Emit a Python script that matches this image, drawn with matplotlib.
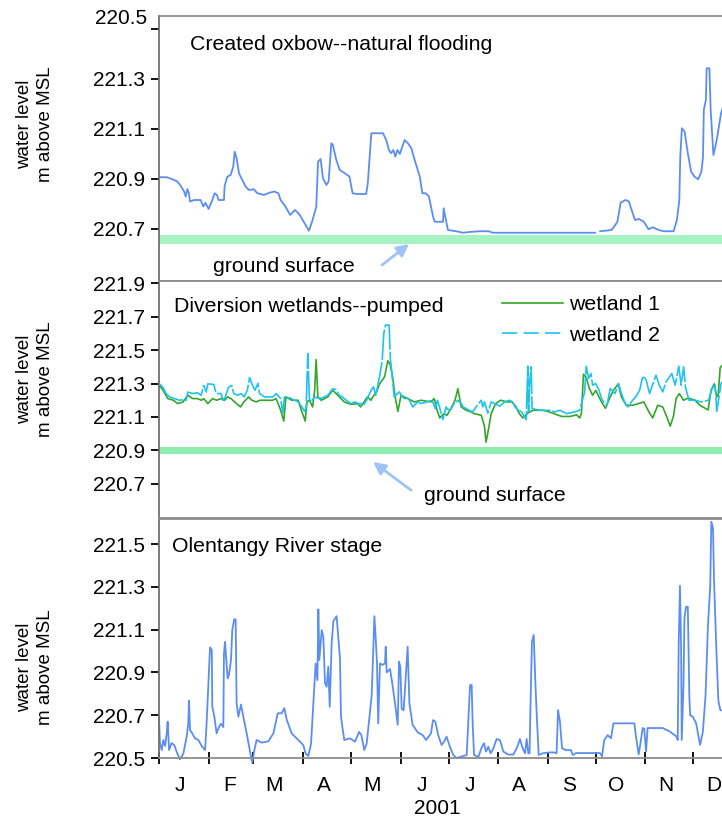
import numpy as np
import matplotlib.pyplot as plt
from matplotlib.lines import Line2D
from matplotlib.transforms import ScaledTranslation

plt.rcParams['font.family'] = ['Liberation Sans', 'DejaVu Sans']
plt.rcParams['lines.scale_dashes'] = False

# day of year 2001 (0 = Jan 1), water level in m above MSL
oxbow = [
    (0, 220.907), (2, 220.907), (5, 220.907), (8.3, 220.899), (11.5, 220.89), (13.6, 220.872),
    (15.7, 220.85), (16.7, 220.83), (17.7, 220.86), (18.7, 220.843), (19.4, 220.81), (22, 220.816),
    (26, 220.816), (27.7, 220.79), (29, 220.805), (31, 220.78), (33.3, 220.816), (34.8, 220.843),
    (36.2, 220.836), (37.2, 220.816), (40.6, 220.816), (41, 220.872), (42.7, 220.909), (44.8, 220.916),
    (46.4, 220.949), (47.3, 221.009), (48.5, 220.983), (50, 220.923), (51.5, 220.903), (54.2, 220.869),
    (56.2, 220.856), (59.3, 220.859), (61.4, 220.843), (63.5, 220.84), (65.5, 220.836), (69, 220.845),
    (72, 220.85), (74.6, 220.843), (76, 220.816), (79, 220.79), (82, 220.756), (84, 220.769),
    (85, 220.776), (88, 220.756), (91, 220.723), (93.7, 220.693), (96, 220.736), (98.3, 220.79),
    (99.4, 220.969), (101, 220.98), (102.5, 220.903), (104.6, 220.876), (106, 220.89), (107.7, 221.043),
    (108.7, 221.036), (110.8, 220.976), (113, 220.936), (116.1, 220.923), (119, 220.91), (121, 220.843),
    (123.5, 220.84), (129.5, 220.84), (130.5, 220.883), (132.7, 221.083), (140, 221.083), (142, 221.056),
    (143.7, 221.016), (145, 221.003), (146.5, 221.016), (147.7, 220.989), (149, 221.016), (150.5, 221.0),
    (153.5, 221.056), (155.6, 221.043), (157.7, 221.023), (159.8, 220.976), (163, 220.909), (164.6, 220.843),
    (166.7, 220.843), (168.7, 220.83), (171.3, 220.749), (172.3, 220.729), (177.5, 220.729), (177.9, 220.783),
    (179.5, 220.73), (180.6, 220.696), (185.8, 220.691), (190, 220.685), (194, 220.688), (200.4, 220.691),
    (206.2, 220.691), (208.5, 220.685), (272.6, 220.685), (274, np.nan), (275.7, 220.691), (282.7, 220.696),
    (284.4, 220.709), (286.5, 220.729), (288.5, 220.805), (291.6, 220.816), (293.7, 220.81), (295.4, 220.776),
    (297.5, 220.736), (300, 220.74), (303, 220.729), (306, 220.699), (308.6, 220.707), (312.3, 220.696),
    (315.4, 220.691), (321.6, 220.691), (323.7, 220.736), (325.2, 220.816), (325.8, 220.989), (326.8, 221.103),
    (328.5, 221.09), (330.5, 221.003), (332.6, 220.929), (334.7, 220.909), (337, 220.899), (339, 220.929),
    (340, 220.989), (340.5, 221.176), (341.8, 221.216), (342.3, 221.343), (344, 221.343), (344.8, 221.176),
    (346.5, 220.996), (348.2, 221.043), (349.9, 221.109), (351.3, 221.163), (353, 221.2),
]

wetland1 = [
    (0.3, 221.29), (2.5, 221.26), (5.5, 221.21), (9, 221.2), (11.7, 221.18), (15, 221.19), (18, 221.23),
    (21, 221.21), (24, 221.21), (26.5, 221.2), (28, 221.21), (30.5, 221.18), (33.5, 221.21), (36, 221.2),
    (38.8, 221.21), (40.9, 221.2), (43, 221.22), (45, 221.21), (49, 221.175), (51, 221.16), (53, 221.19),
    (56, 221.22), (58, 221.2), (60.8, 221.19), (63, 221.2), (66, 221.2), (71, 221.2), (73.2, 221.21),
    (76, 221.142), (78, 221.075), (79.3, 221.22), (83, 221.2), (87, 221.2), (88.6, 221.15), (91.4, 221.075),
    (92.5, 221.19), (94, 221.2), (96, 221.16), (97.3, 221.26), (98.2, 221.443), (99.3, 221.22),
    (101.4, 221.2), (105.5, 221.22), (108.6, 221.26), (111.7, 221.23), (115.8, 221.19), (120, 221.175),
    (124.1, 221.18), (126, 221.16), (130.3, 221.22), (132.4, 221.2), (135, 221.24), (136, 221.25),
    (138, 221.3), (141, 221.34), (143, 221.437), (144.6, 221.41), (146, 221.34), (147.6, 221.22),
    (149.3, 221.133), (151.3, 221.23), (155.5, 221.21), (159.6, 221.19), (163.7, 221.2), (169.9, 221.19),
    (172, 221.21), (173.8, 221.14), (175.5, 221.094), (176, 221.1), (178, 221.12), (180, 221.11),
    (183, 221.16), (185, 221.2), (186.8, 221.269), (188.9, 221.16), (192, 221.14), (195, 221.13),
    (197, 221.12), (201.4, 221.11), (203.4, 221.045), (204.4, 220.949), (206, 221.03), (207.6, 221.12),
    (210.4, 221.18), (213.5, 221.2), (217.6, 221.19), (220.7, 221.19), (223.2, 221.16), (225, 221.123),
    (227.4, 221.094), (230.5, 221.123), (233.6, 221.14), (240, 221.14), (243, 221.133), (246, 221.123),
    (248.7, 221.113), (251.8, 221.103), (257, 221.103), (261, 221.113), (262.9, 221.094), (264, 221.12),
    (265.3, 221.356), (267, 221.336), (269, 221.27), (271, 221.23), (273, 221.259), (276, 221.2),
    (279, 221.152), (282, 221.22), (284, 221.259), (287, 221.298), (289, 221.22), (292, 221.17),
    (296, 221.17), (300, 221.181), (303, 221.19), (306.6, 221.123), (308.6, 221.094), (311.7, 221.17),
    (314.8, 221.16), (317.4, 221.1), (319.5, 221.045), (321.5, 221.103), (323.2, 221.21), (325.2, 221.24),
    (327.8, 221.2), (329.9, 221.21), (332, 221.21), (335, 221.2), (338, 221.17), (343.2, 221.142),
    (345, 221.259), (347, 221.298), (348.6, 221.22), (349.5, 221.23), (350.7, 221.394), (353, 221.42),
]

wetland2 = [
    (0.3, 221.298), (2.4, 221.278), (4.5, 221.24), (6.6, 221.22), (9.7, 221.21), (12.8, 221.2),
    (16, 221.205), (17, 221.2), (18, 221.249), (21, 221.24), (24, 221.245), (26.3, 221.23), (28, 221.288),
    (29.5, 221.25), (30.5, 221.298), (34.2, 221.295), (35.7, 221.24), (38.8, 221.24), (39.9, 221.2),
    (41.5, 221.22), (43.4, 221.278), (45.5, 221.288), (46.7, 221.24), (49.2, 221.23), (51.3, 221.24),
    (53.3, 221.22), (55.2, 221.26), (56.6, 221.336), (58, 221.3), (60, 221.26), (61.8, 221.301),
    (62.8, 221.24), (66, 221.22), (71.2, 221.22), (73.2, 221.24), (76, 221.21), (77.4, 221.123),
    (78.4, 221.22), (80.5, 221.22), (82.6, 221.21), (84.8, 221.2), (87, 221.19), (88.6, 221.17),
    (91, 221.133), (92, 221.16), (93, 221.48), (94, 221.21), (95, 221.19), (96.5, 221.21), (97.3, 221.22),
    (100.4, 221.21), (103.5, 221.22), (105.5, 221.23), (108.6, 221.269), (110.6, 221.264), (112.6, 221.23),
    (114.6, 221.22), (117, 221.2), (120, 221.18), (122.4, 221.19), (124.6, 221.18), (125.8, 221.18),
    (127.8, 221.17), (129.8, 221.2), (131.6, 221.24), (132.6, 221.26), (134, 221.28), (135.5, 221.23),
    (138, 221.35), (139.5, 221.44), (140.5, 221.6), (141.5, 221.65), (143.8, 221.65), (144.6, 221.45),
    (146, 221.317), (147, 221.22), (150.2, 221.25), (152.2, 221.22), (153.4, 221.21), (156, 221.21),
    (158.6, 221.16), (161.7, 221.19), (163.8, 221.18), (167.5, 221.19), (170.6, 221.2), (172.7, 221.15),
    (174, 221.2), (175.3, 221.16), (177.4, 221.084), (179.5, 221.16), (180, 221.15), (182, 221.14),
    (184.5, 221.18), (186.8, 221.2), (188.9, 221.18), (190, 221.16), (192, 221.15), (194, 221.14),
    (196, 221.13), (198.2, 221.16), (201.4, 221.2), (202.4, 221.16), (203.4, 221.19), (205.5, 221.123),
    (207.6, 221.19), (209.7, 221.18), (213, 221.165), (216, 221.19), (219, 221.2), (221.1, 221.19),
    (222.5, 221.16), (224.6, 221.14), (226.7, 221.13), (229.5, 221.084), (230.5, 221.404), (231, 221.13),
    (231.6, 221.29), (232.6, 221.4), (233.2, 221.15), (238, 221.14), (241, 221.14), (244.3, 221.14),
    (247.4, 221.13), (250.6, 221.14), (254.8, 221.12), (259.7, 221.13), (262.9, 221.14), (266, 221.249),
    (267, 221.404), (268.5, 221.33), (270, 221.36), (271, 221.29), (273, 221.3), (275, 221.26),
    (277, 221.2), (280, 221.17), (282, 221.27), (285, 221.24), (287.2, 221.3), (289, 221.24),
    (291, 221.19), (293, 221.16), (296, 221.2), (298, 221.22), (300.4, 221.26), (302.4, 221.346),
    (304.5, 221.32), (306.6, 221.24), (309, 221.307), (310.6, 221.35), (312.7, 221.29), (314.8, 221.25),
    (316.9, 221.31), (320.5, 221.36), (322.6, 221.29), (324.9, 221.404), (326.3, 221.29), (327.9, 221.4),
    (329, 221.28), (331.2, 221.2), (335.3, 221.2), (338.5, 221.19), (343.5, 221.2), (345.6, 221.27),
    (347.6, 221.29), (348.6, 221.133), (350, 221.22), (351.3, 221.3), (353, 221.32),
]

river = [
    (0, 220.69), (0.6, 220.569), (1.7, 220.537), (2.7, 220.584), (3.8, 220.556), (4.8, 220.615),
    (5.4, 220.67), (6.3, 220.537), (7.9, 220.57), (9.6, 220.56), (11, 220.529), (13.1, 220.494),
    (15.2, 220.52), (17.3, 220.6), (18.3, 220.662), (18.75, 220.768), (19.4, 220.63), (20.8, 220.615),
    (22.5, 220.592), (24.6, 220.584), (26.7, 220.556), (28.8, 220.537), (29.8, 220.67), (30.4, 220.77),
    (31.3, 220.927), (31.9, 221.017), (33, 221.005), (33.3, 220.74), (34.6, 220.693), (36, 220.615),
    (37.5, 220.645), (38.75, 220.66), (40.2, 220.645), (40.6, 220.989), (41.25, 221.043), (42.9, 220.872),
    (43.75, 220.89), (45, 220.958), (45.8, 221.098), (47, 221.148), (47.9, 221.148), (48.5, 220.756),
    (49.6, 220.693), (51.25, 220.75), (52.7, 220.693), (54.8, 220.615), (56.9, 220.53), (58.3, 220.478),
    (59.6, 220.537), (61, 220.584), (64.2, 220.572), (68.3, 220.578), (71.5, 220.615), (74.2, 220.709),
    (76.7, 220.709), (78.3, 220.733), (79.8, 220.68), (82.9, 220.615), (87.1, 220.584), (90.2, 220.56),
    (91.7, 220.52), (93.3, 220.51), (95, 220.565), (96.5, 220.763), (97.9, 220.942), (99, 220.864),
    (99.6, 221.195), (100.2, 220.958), (101.7, 221.098), (102.7, 221.066), (103.75, 220.849),
    (104.8, 220.833), (105.8, 220.927), (106.7, 220.74), (107.9, 221.036), (109, 221.14), (111, 221.163),
    (113.1, 220.966), (113.75, 220.693), (114.6, 220.646), (115.8, 220.584), (119.4, 220.592),
    (122.5, 220.576), (125, 220.622), (126.5, 220.607), (128.3, 220.537), (129.8, 220.568), (132.9, 220.79),
    (134, 221.02), (134.6, 221.163), (135.4, 221.066), (136.25, 220.942), (137, 220.662), (138.1, 220.942),
    (139.6, 220.935), (141.25, 220.942), (141.7, 221.02), (142.3, 220.9), (144.4, 220.916),
    (145.8, 220.849), (147.5, 220.756), (149.2, 220.655), (150, 220.95), (150.8, 220.927), (151.7, 220.73),
    (152.9, 220.723), (154.4, 220.9), (155.4, 221.02), (156.5, 220.756), (158.5, 220.655), (161.7, 220.62),
    (164.8, 220.607), (166.9, 220.584), (168.5, 220.6), (170, 220.615), (171.25, 220.677), (172.7, 220.67),
    (174.5, 220.607), (176.6, 220.561), (178.2, 220.576), (179.7, 220.6), (181.8, 220.553),
    (183.9, 220.514), (186, 220.5), (192.3, 220.514), (193.3, 220.67), (194.4, 220.841), (195.4, 220.841),
    (196, 220.67), (196.9, 220.514), (199.6, 220.505), (201.7, 220.55), (203.1, 220.569), (204.4, 220.53),
    (205.8, 220.553), (207.3, 220.522), (209, 220.545), (211, 220.589), (213.1, 220.584), (215.2, 220.53),
    (218.3, 220.516), (221.5, 220.516), (224, 220.553), (225.6, 220.589), (227.3, 220.545),
    (228.75, 220.522), (229.8, 220.589), (230.8, 220.522), (231.6, 220.522), (232.1, 220.716),
    (233.1, 221.043), (234.2, 221.075), (235.2, 220.857), (236.1, 220.7), (237.3, 220.514),
    (239.8, 220.522), (244, 220.526), (247.1, 220.526), (248.5, 220.522), (249.4, 220.724),
    (250.6, 220.67), (251.9, 220.545), (254.4, 220.537), (257.5, 220.537), (258.6, 220.514),
    (260.6, 220.523), (273.1, 220.523), (275.6, 220.523), (276.9, 220.508), (278.3, 220.584),
    (280.4, 220.607), (282.5, 220.592), (284, 220.662), (297.1, 220.662), (298.1, 220.6), (299.8, 220.517),
    (300.6, 220.553), (302.3, 220.64), (303.3, 220.637), (304.4, 220.53), (305.4, 220.64), (314.8, 220.64),
    (319, 220.625), (323.5, 220.6), (324.2, 220.584), (324.8, 221.028), (325.6, 221.305), (326.3, 221.028),
    (326.7, 220.584), (327.8, 220.84), (328.4, 221.153), (329.4, 221.207), (330.5, 221.207),
    (331.5, 220.778), (332, 220.7), (333.6, 220.693), (335.7, 220.662), (338.2, 220.561), (339.9, 220.622),
    (341.6, 220.794), (343.1, 221.121), (344.5, 221.3), (345.2, 221.604), (346.25, 221.574),
    (346.9, 221.329), (348.3, 221.018), (349.6, 220.769), (350.8, 220.724), (353, 220.72),
]

ground_oxbow = 220.662
ground_wetland = 220.9

panel_titles = ['Created oxbow--natural flooding', 'Diversion wetlands--pumped', 'Olentangy River stage']
month_labels = ['J', 'F', 'M', 'A', 'M', 'J', 'J', 'A', 'S', 'O', 'N', 'D']
month_start = (np.arange('2001-01', '2002-01', dtype='datetime64[M]').astype('datetime64[D]')
               - np.datetime64('2001-01-01')).astype(int)

W, H = 722, 825
fig = plt.figure(figsize=(W / 100, H / 100), dpi=100)

X0, PX_DAY = 159, 1.6
TXT = 15.3


def add_panel(top, bottom):
    # pixel box -> figure fraction; right edge runs past the figure like the cropped original
    width = 365 * PX_DAY
    return fig.add_axes([X0 / W, 1 - bottom / H, width / W, (bottom - top) / H])


ax1 = add_panel(16, 281)
ax2 = add_panel(281, 518)
ax3 = add_panel(519, 758)

spine_col = '#8c8c8c'
for ax in (ax1, ax2, ax3):
    ax.set_xlim(0, 365)
    for s in ax.spines.values():
        s.set_color(spine_col)
        s.set_linewidth(1.3)
    ax.spines['left'].set_color('#707070')
    ax.tick_params(axis='y', direction='out', length=6, width=1.3, color='black',
                   labelsize=15, pad=4)
    ax.tick_params(axis='x', which='both', bottom=False, labelbottom=False)

blue = '#5b8ef0'
green = '#33a62b'
cyan = '#1ec3f0'
band1 = '#a6f2c2'
band2 = '#8eedb0'
arrow_col = '#9ec4f6'

# top: created oxbow
d, v = zip(*oxbow)
ax1.axhline(ground_oxbow, color=band1, lw=6.5, zorder=1)
ax1.plot(d, v, color=blue, lw=1.3, zorder=2)
ax1.set_ylim(220.492, 221.552)
ax1.set_yticks([220.7, 220.9, 221.1, 221.3, 221.5])
ax1.set_yticklabels(['220.7', '220.9', '221.1', '221.3', ''])
ax1.text(0, 221.5, '220.5', fontsize=15, ha='right', va='center',
         transform=ax1.get_yaxis_transform() + ScaledTranslation(-0.12, 0.11, fig.dpi_scale_trans))
ax1.text(0.053, 0.894, panel_titles[0], transform=ax1.transAxes, fontsize=TXT, va='center')
ax1.annotate('', xy=(156.3, 220.64), xytext=(139.4, 220.556),
             arrowprops=dict(arrowstyle='-|>', color=arrow_col, lw=2, mutation_scale=18,
                             shrinkA=0, shrinkB=0))
ax1.text(34, 220.552, 'ground surface', fontsize=TXT, va='center')

# middle: diversion wetlands
d1, v1 = zip(*wetland1)
d2, v2 = zip(*wetland2)
ax2.axhline(ground_wetland, color=band2, lw=5, zorder=1)
ax2.plot(d1, v1, color=green, lw=1.2, zorder=2)
ax2.plot(d2, v2, color=cyan, lw=1.2, dashes=(22, 1.5), zorder=3)
ax2.set_ylim(220.495, 221.914)
ax2.set_yticks([220.7, 220.9, 221.1, 221.3, 221.5, 221.7, 221.9])
ax2.set_yticklabels(['220.7', '220.9', '221.1', '221.3', '221.5', '221.7', '221.9'])
ax2.text(0.026, 0.892, panel_titles[1], transform=ax2.transAxes, fontsize=TXT, va='center')
handles = [Line2D([], [], color=green, lw=1.2),
           Line2D([], [], color=cyan, lw=1.2, dashes=(11, 4.5))]
ax2.legend(handles, ['wetland 1', 'wetland 2'], loc='upper left',
           bbox_to_anchor=((502 - X0) / 584, (518 - 295) / 237), frameon=False, fontsize=TXT,
           handlelength=2.85, handletextpad=0.3, labelspacing=0.55, borderpad=0, borderaxespad=0)
ax2.annotate('', xy=(133.8, 220.83), xytext=(157.5, 220.662),
             arrowprops=dict(arrowstyle='-|>', color=arrow_col, lw=2, mutation_scale=18,
                             shrinkA=0, shrinkB=0))
ax2.text(165.6, 220.632, 'ground surface', fontsize=TXT, va='center')

# bottom: river stage
d, v = zip(*river)
ax3.plot(d, v, color=blue, lw=1.3, clip_on=False)
ax3.set_ylim(220.5, 221.617)
ax3.set_yticks([220.5, 220.7, 220.9, 221.1, 221.3, 221.5])
ax3.set_yticklabels(['220.5', '220.7', '220.9', '221.1', '221.3', '221.5'])
ax3.text(0.022, 0.887, panel_titles[2], transform=ax3.transAxes, fontsize=TXT, va='center')
ax3.set_xticks(month_start)
ax3.set_xticks(month_start + 13, minor=True)
ax3.set_xticklabels(month_labels, minor=True)
ax3.tick_params(axis='x', which='major', bottom=True, direction='inout', length=9, width=1.3,
                color='black', labelbottom=False)
ax3.tick_params(axis='x', which='minor', bottom=True, length=0, labelbottom=True,
                labelsize=15, pad=13)

ylab = 'water level\nm above MSL'
for yc in (124, 379, 667):
    fig.text(35 / W, 1 - yc / H, ylab, rotation=90, ha='center', va='center',
             fontsize=13.5, linespacing=1.3, multialignment='center')
fig.text(437 / W, 1 - 809 / H, '2001', ha='center', va='center', fontsize=15)

fig.savefig('out.png', dpi=100)
